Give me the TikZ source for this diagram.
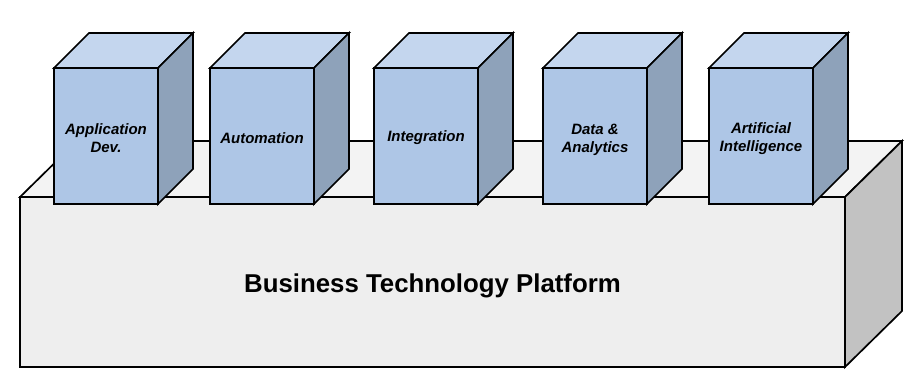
\documentclass[tikz,border=0pt]{standalone}
\usepackage{fontspec}
\setmainfont{Liberation Sans}
\definecolor{cubeFront}{HTML}{AEC6E6}
\definecolor{cubeTop}{HTML}{C4D6EE}
\definecolor{cubeSide}{HTML}{8EA2BA}
\definecolor{platFront}{HTML}{EEEEEE}
\definecolor{platTop}{HTML}{F3F3F3}
\definecolor{platSide}{HTML}{C2C2C2}
\begin{document}
\begin{tikzpicture}[x=1pt,y=1pt,
  edge/.style={draw=black, line width=1.7pt, line join=miter},
  platfront/.style={edge, fill=platFront, minimum width=825pt, minimum height=170pt,
    inner sep=0pt, outer sep=0pt},
  plattext/.style={inner sep=0pt, font=\fontsize{25.8}{30}\selectfont\bfseries},
  cubefront/.style={edge, fill=cubeFront, minimum width=104pt, minimum height=136pt,
    inner sep=0pt, outer sep=0pt},
  cubetext/.style={inner sep=0pt, align=center,
    font=\fontsize{15}{18}\selectfont\bfseries\itshape}]
\useasboundingbox (0,0) rectangle (918,378);

% platform slab
\node[platfront] (plat) at (432.5,96) {};
\draw[edge, fill=platTop] (plat.north west) -- ++(57,56) -- ++(825,0) -- (plat.north east) -- cycle;
\draw[edge, fill=platSide] (plat.north east) -- ++(57,56) -- ++(0,-170) -- (plat.south east) -- cycle;
\node[plattext] (plat-label) at ([yshift=-3.5pt]plat.center) {Business Technology Platform};

% capability cubes standing on the platform
\node[cubefront] (app)  at (106,242) {};
\node[cubefront] (auto) at (262,242) {};
\node[cubefront] (intg) at (426,242) {};
\node[cubefront] (data) at (595,242) {};
\node[cubefront] (ai)   at (761,242) {};

\foreach \c in {app,auto,intg,data,ai}{
  \draw[edge, fill=cubeTop] (\c.north west) -- ++(35,35) -- ++(104,0) -- (\c.north east) -- cycle;
  \draw[edge, fill=cubeSide] (\c.north east) -- ++(35,35) -- ++(0,-136) -- (\c.south east) -- cycle;
}

\node[cubetext] (app-label)  at ([yshift=-2.5pt]app.center)  {Application\\Dev.};
\node[cubetext] (auto-label) at ([yshift=-2pt]auto.center)   {Automation};
\node[cubetext] (intg-label) at ([yshift=-2pt]intg.center)   {Integration};
\node[cubetext] (data-label) at ([yshift=-3.5pt]data.center) {Data \&\\Analytics};
\node[cubetext] (ai-label)   at ([yshift=-3pt]ai.center)     {Artificial\\Intelligence};
\end{tikzpicture}
\end{document}
